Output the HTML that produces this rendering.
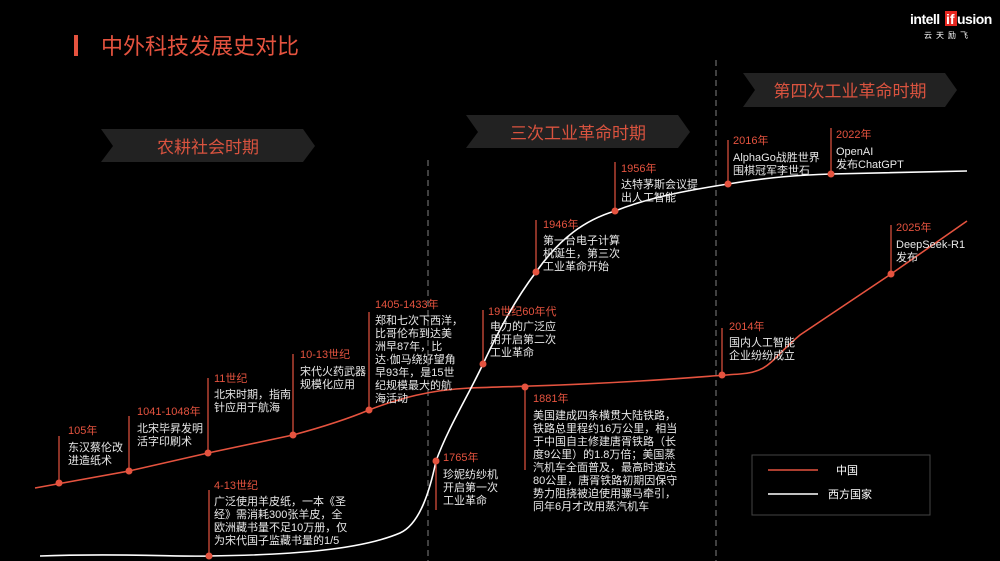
<!DOCTYPE html>
<html><head><meta charset="utf-8"><style>
html,body{margin:0;padding:0;background:#000;}
svg{display:block;}
text{font-family:"Liberation Sans","Noto Sans CJK SC",sans-serif;}
.y{fill:#e5533f;font-size:11px;}
.t{fill:#e8e8e8;font-size:11px;}
</style></head><body>
<svg width="1000" height="561" viewBox="0 0 1000 561" xmlns="http://www.w3.org/2000/svg">
<rect width="1000" height="561" fill="#000"/>
<rect x="74" y="35" width="4" height="21" fill="#e5533f"/>
<text x="101" y="54" style="fill:#e5533f;font-size:22px;">中外科技发展史对比</text>
<text x="910" y="24" style="fill:#fff;font-size:14px;font-weight:bold;letter-spacing:-0.5px;">intell</text>
<rect x="945" y="11" width="12" height="15" fill="#e5261f"/>
<text x="946" y="24" style="fill:#fff;font-size:14px;font-weight:bold;">if</text>
<text x="957" y="24" style="fill:#fff;font-size:14px;font-weight:bold;letter-spacing:-0.5px;">usion</text>
<text x="924" y="38" style="fill:#fff;font-size:8px;letter-spacing:4px;">云天励飞</text>
<polygon points="101,129 303,129 315,146 303,162 101,162 113,146" fill="#222"/>
<text x="208" y="153" text-anchor="middle" style="fill:#d9533f;font-size:17px;">农耕社会时期</text>
<polygon points="466,115 678,115 690,132 678,148 466,148 478,132" fill="#222"/>
<text x="578" y="139" text-anchor="middle" style="fill:#d9533f;font-size:17px;">三次工业革命时期</text>
<polygon points="743,73 945,73 957,90 945,107 743,107 755,90" fill="#222"/>
<text x="850" y="97" text-anchor="middle" style="fill:#d9533f;font-size:17px;">第四次工业革命时期</text>
<line x1="428" y1="160" x2="428" y2="561" stroke="#555" stroke-width="1.5" stroke-dasharray="6,4"/>
<line x1="716" y1="60" x2="716" y2="561" stroke="#555" stroke-width="1.5" stroke-dasharray="6,4"/>
<path d="M35,488 L129,471 L208,453 L293,435 C330,425 350,418 369,410 C400,398 430,390 470,388 C520,386 560,386 640,381 C690,378 710,376 740,374 C770,372 770,360 800,335 L891,274 L967,221" fill="none" stroke="#e5533f" stroke-width="1.6"/>
<path d="M40,556 C120,553 180,557 209,556 C290,555 360,550 400,533 C420,524 430,490 436,461 C448,428 468,396 483,364 C500,328 515,300 536,272 C560,238 585,220 615,211 C650,197 690,190 728,184 C770,177 800,175 831,174 L967,171" fill="none" stroke="#fff" stroke-width="1.6"/>
<g stroke="#e5533f" stroke-width="1.2">
<line x1="59" y1="483" x2="59" y2="436"/>
<line x1="129" y1="471" x2="129" y2="416"/>
<line x1="208" y1="453" x2="208" y2="378"/>
<line x1="293" y1="435" x2="293" y2="354"/>
<line x1="369" y1="410" x2="369" y2="312"/>
<line x1="525" y1="387" x2="525" y2="470"/>
<line x1="722" y1="375" x2="722" y2="328"/>
<line x1="891" y1="274" x2="891" y2="225"/>
<line x1="209" y1="556" x2="209" y2="490"/>
<line x1="436" y1="461" x2="436" y2="510"/>
<line x1="483" y1="364" x2="483" y2="310"/>
<line x1="536" y1="272" x2="536" y2="220"/>
<line x1="615" y1="211" x2="615" y2="162"/>
<line x1="728" y1="184" x2="728" y2="140"/>
<line x1="831" y1="174" x2="831" y2="128"/>
</g>
<g fill="#e5533f">
<circle cx="59" cy="483" r="3.5"/><circle cx="129" cy="471" r="3.5"/><circle cx="208" cy="453" r="3.5"/><circle cx="293" cy="435" r="3.5"/><circle cx="369" cy="410" r="3.5"/><circle cx="525" cy="387" r="3.5"/><circle cx="722" cy="375" r="3.5"/><circle cx="891" cy="274" r="3.5"/>
<circle cx="209" cy="556" r="3.5"/><circle cx="436" cy="461" r="3.5"/><circle cx="483" cy="364" r="3.5"/><circle cx="536" cy="272" r="3.5"/><circle cx="615" cy="211" r="3.5"/><circle cx="728" cy="184" r="3.5"/><circle cx="831" cy="174" r="3.5"/>
</g>
<text class="y" x="68" y="434">105年</text>
<text class="t" x="68" y="451">东汉蔡伦改</text><text class="t" x="68" y="464">进造纸术</text>
<text class="y" x="137" y="415">1041-1048年</text>
<text class="t" x="137" y="432">北宋毕昇发明</text><text class="t" x="137" y="445">活字印刷术</text>
<text class="y" x="214" y="382">11世纪</text>
<text class="t" x="214" y="398">北宋时期，指南</text><text class="t" x="214" y="411">针应用于航海</text>
<text class="y" x="300" y="358">10-13世纪</text>
<text class="t" x="300" y="375">宋代火药武器</text><text class="t" x="300" y="388">规模化应用</text>
<text class="y" x="375" y="308">1405-1433年</text>
<text class="t" x="375" y="324">郑和七次下西洋，</text><text class="t" x="375" y="337">比哥伦布到达美</text><text class="t" x="375" y="350">洲早87年，比</text><text class="t" x="375" y="363">达·伽马绕好望角</text><text class="t" x="375" y="376">早93年，是15世</text><text class="t" x="375" y="389">纪规模最大的航</text><text class="t" x="375" y="402">海活动</text>
<text class="y" x="214" y="489">4-13世纪</text>
<text class="t" x="214" y="505">广泛使用羊皮纸，一本《圣</text><text class="t" x="214" y="518">经》需消耗300张羊皮，全</text><text class="t" x="214" y="531">欧洲藏书量不足10万册，仅</text><text class="t" x="214" y="544">为宋代国子监藏书量的1/5</text>
<text class="y" x="443" y="461">1765年</text>
<text class="t" x="443" y="478">珍妮纺纱机</text><text class="t" x="443" y="491">开启第一次</text><text class="t" x="443" y="504">工业革命</text>
<text class="y" x="488" y="315">19世纪60年代</text>
<text class="t" x="490" y="330">电力的广泛应</text><text class="t" x="490" y="343">用开启第二次</text><text class="t" x="490" y="356">工业革命</text>
<text class="y" x="543" y="228">1946年</text>
<text class="t" x="543" y="244">第一台电子计算</text><text class="t" x="543" y="257">机诞生，第三次</text><text class="t" x="543" y="270">工业革命开始</text>
<text class="y" x="621" y="172">1956年</text>
<text class="t" x="621" y="188">达特茅斯会议提</text><text class="t" x="621" y="201">出人工智能</text>
<text class="y" x="533" y="402">1881年</text>
<text class="t" x="533" y="419">美国建成四条横贯大陆铁路，</text><text class="t" x="533" y="432">铁路总里程约16万公里，相当</text><text class="t" x="533" y="445">于中国自主修建唐胥铁路（长</text><text class="t" x="533" y="458">度9公里）的1.8万倍；美国蒸</text><text class="t" x="533" y="471">汽机车全面普及，最高时速达</text><text class="t" x="533" y="484">80公里，唐胥铁路初期因保守</text><text class="t" x="533" y="497">势力阻挠被迫使用骡马牵引，</text><text class="t" x="533" y="510">同年6月才改用蒸汽机车</text>
<text class="y" x="733" y="144">2016年</text>
<text class="t" x="733" y="161">AlphaGo战胜世界</text><text class="t" x="733" y="174">围棋冠军李世石</text>
<text class="y" x="836" y="138">2022年</text>
<text class="t" x="836" y="155">OpenAI</text><text class="t" x="836" y="168">发布ChatGPT</text>
<text class="y" x="729" y="330">2014年</text>
<text class="t" x="729" y="346">国内人工智能</text><text class="t" x="729" y="359">企业纷纷成立</text>
<text class="y" x="896" y="231">2025年</text>
<text class="t" x="896" y="248">DeepSeek-R1</text><text class="t" x="896" y="261">发布</text>
<rect x="752" y="455" width="178" height="60" fill="none" stroke="#444" stroke-width="1"/>
<line x1="768" y1="470" x2="818" y2="470" stroke="#e5533f" stroke-width="1.6"/>
<text x="836" y="474" style="fill:#fff;font-size:11px;">中国</text>
<line x1="768" y1="494" x2="818" y2="494" stroke="#fff" stroke-width="1.6"/>
<text x="828" y="498" style="fill:#fff;font-size:11px;">西方国家</text>
</svg>
</body></html>
